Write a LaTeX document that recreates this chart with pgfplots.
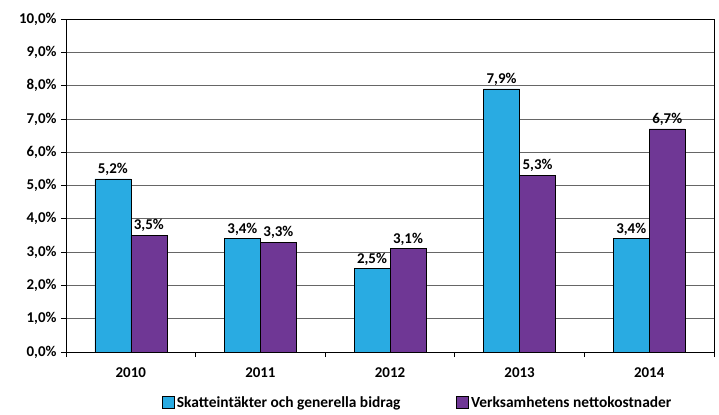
\documentclass[border=0pt]{standalone}
\usepackage{pgfplots}
\pgfplotsset{compat=1.18}
\usepackage{fontspec}
\setmainfont{Carlito}
\definecolor{cyanbar}{HTML}{29ABE2}
\definecolor{purplebar}{HTML}{6F3795}
\begin{document}
\begin{tikzpicture}[x=1bp,y=1bp]
\path[use as bounding box] (-66,-62) rectangle (653,352);
\begin{axis}[
  at={(0,0)}, anchor=south west,
  scale only axis, width=648bp, height=333bp,
  ymin=0, ymax=10, xmin=-0.5, xmax=4.5,
  ytick={0,1,...,10},
  yticklabel={\pgfmathprintnumber[fixed,fixed zerofill,precision=1,use comma]{\tick}\%},
  /pgf/number format/assume math mode=true,
  xtick={0,1,2,3,4}, xticklabels={2010,2011,2012,2013,2014},
  minor xtick={-0.5,0.5,1.5,2.5,3.5,4.5},
  major x tick style={draw=none},
  minor tick length=5bp, major tick length=5bp,
  tick align=outside, tick pos=left,
  ymajorgrids, grid style={black!60, line width=0.8pt},
  axis line style={black, line width=0.8pt},
  tick style={black, line width=0.8pt},
  ticklabel style={font=\fontsize{15}{17}\selectfont\bfseries},
  yticklabel style={xshift=-1bp},
  xticklabel style={yshift=-7bp},
  ybar=0pt, bar width=36bp,
  nodes near coords={\pgfmathprintnumber[fixed,fixed zerofill,precision=1,use comma]{\pgfplotspointmeta}\%},
  nodes near coords style={font=\fontsize{15}{17}\selectfont\bfseries, /pgf/number format/assume math mode=true},
  legend style={at={(0.543,-0.125)}, anchor=north, draw=none, legend columns=2,
    inner sep=1bp,
    font=\fontsize{15.5}{17}\selectfont\bfseries, /tikz/every even column/.append style={column sep=54bp}},
  legend image code/.code={\draw[#1, draw=black, line width=0.6pt] (0bp,-5bp) rectangle (12bp,7bp);},
  clip=false,
]
\addplot[fill=cyanbar, draw=black, line width=0.6pt] coordinates {(0,5.2) (1,3.4) (2,2.5) (3,7.9) (4,3.4)};
\addplot[fill=purplebar, draw=black, line width=0.6pt] coordinates {(0,3.5) (1,3.3) (2,3.1) (3,5.3) (4,6.7)};
\legend{Skatteintäkter och generella bidrag, Verksamhetens nettokostnader}
\end{axis}
\end{tikzpicture}
\end{document}
